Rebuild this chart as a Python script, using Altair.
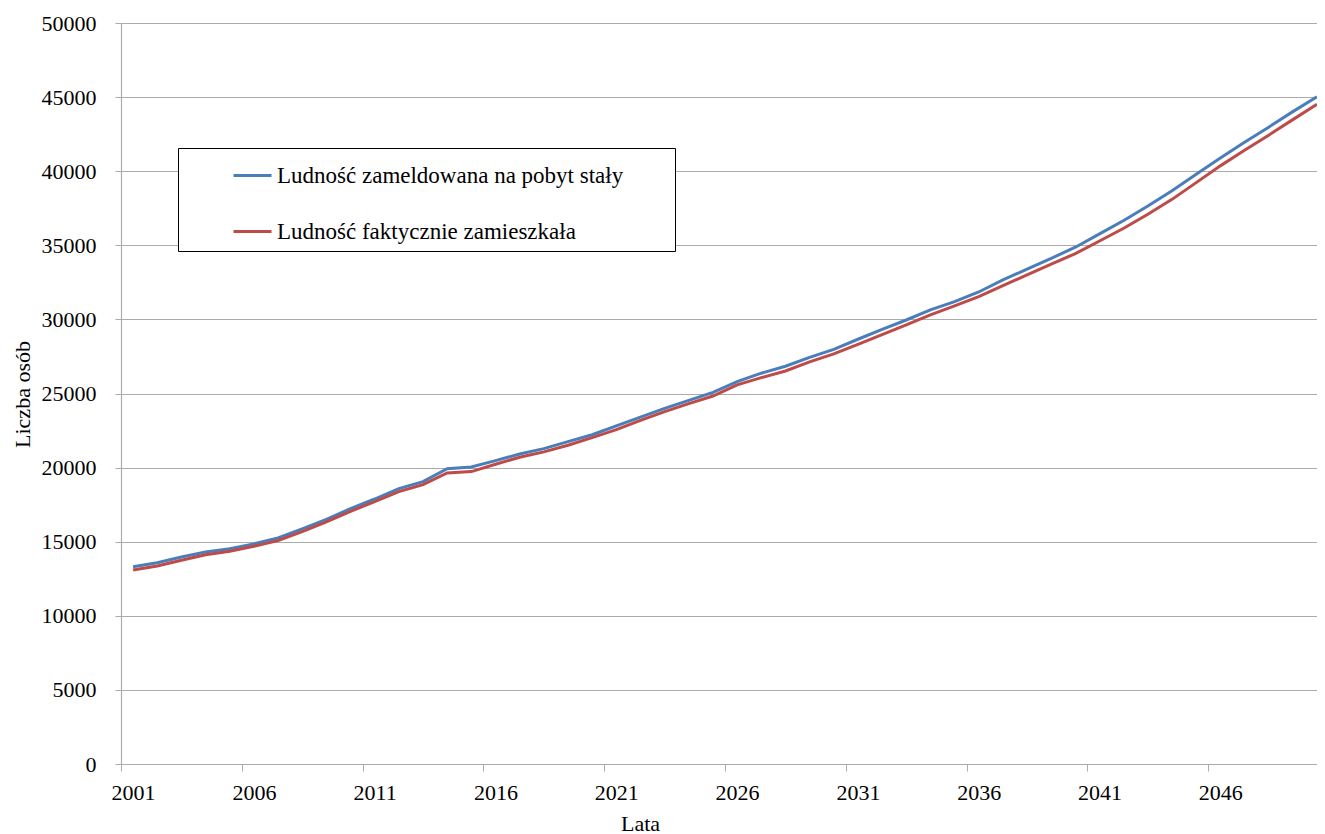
import altair as alt
import pandas as pd

years = list(range(2001, 2051))

zameldowana = [
    13310, 13580, 13970, 14310, 14530, 14850, 15250, 15860, 16510, 17230,
    17880, 18580, 19050, 19930, 20040, 20470, 20920, 21280, 21750, 22220,
    22810, 23400, 24000, 24540, 25080, 25800, 26370, 26840, 27440, 27980,
    28660, 29330, 29960, 30640, 31200, 31850, 32660, 33400, 34120, 34870,
    35770, 36670, 37650, 38680, 39790, 40890, 41950, 42970, 44020, 45030,
]

faktycznie = [
    13090, 13360, 13750, 14120, 14350, 14690, 15070, 15680, 16330, 17050,
    17700, 18380, 18850, 19640, 19730, 20230, 20700, 21060, 21510, 22020,
    22560, 23190, 23780, 24320, 24830, 25580, 26070, 26520, 27130, 27670,
    28320, 28970, 29630, 30300, 30910, 31540, 32280, 33000, 33730, 34440,
    35290, 36150, 37100, 38100, 39230, 40360, 41410, 42430, 43480, 44520,
]

series_names = ["Ludność zameldowana na pobyt stały", "Ludność faktycznie zamieszkała"]
series_colors = ["#4a7ebb", "#be4b48"]

x_tick_years = list(range(2001, 2050, 5))
y_ticks = list(range(0, 50001, 5000))

df = pd.DataFrame({
    "rok": years + years,
    "wartosc": zameldowana + faktycznie,
    "seria": [series_names[0]] * len(years) + [series_names[1]] * len(years),
})

FONT = "Liberation Serif"
W, H = 1196, 741
half_step = W / 49.5 / 2
GRID = "#ababab"

chart = alt.Chart(df).mark_line(strokeWidth=3).encode(
    x=alt.X(
        "rok:Q",
        scale=alt.Scale(domain=[2000.5, 2050], nice=False, zero=False),
        axis=alt.Axis(
            values=x_tick_years, format="d", title="Lata", grid=False,
            tickOffset=-half_step, labelOffset=half_step,
            tickSize=7, tickColor=GRID, domainColor=GRID, domainWidth=1.2,
            labelFont=FONT, labelFontSize=22, labelColor="black", labelPadding=11,
            labelFlush=False, labelOverlap=False,
            titleFont=FONT, titleFontSize=22, titleColor="black", titleFontWeight="normal",
            titleX=519, titleY=59, titleBaseline="middle", titleAlign="center",
        ),
    ),
    y=alt.Y(
        "wartosc:Q",
        scale=alt.Scale(domain=[0, 50000], nice=False),
        axis=alt.Axis(
            values=y_ticks, format="d", title="Liczba osób",
            grid=True, gridColor=GRID, gridWidth=1.2,
            tickSize=6, tickColor=GRID, domainColor=GRID, domainWidth=1.2,
            labelFont=FONT, labelFontSize=22, labelColor="black", labelPadding=19,
            labelFlush=False, labelOverlap=False,
            titleFont=FONT, titleFontSize=22, titleColor="black", titleFontWeight="normal",
            titleX=-99, titleY=371, titleAngle=-90, titleBaseline="middle", titleAlign="center",
        ),
    ),
    color=alt.Color(
        "seria:N",
        scale=alt.Scale(domain=series_names, range=series_colors),
        legend=alt.Legend(
            title=" ", titleOrient="right", titlePadding=45, titleFont=FONT, titleFontSize=22,
            orient="none", legendX=57, legendY=125, direction="vertical",
            symbolType="stroke", symbolSize=1444, symbolStrokeWidth=3, symbolOffset=47,
            labelOffset=4, labelFont=FONT, labelFontSize=23, labelColor="black", labelLimit=0,
            rowPadding=23, padding=7, strokeColor="black", fillColor="white",
        ),
    ),
).properties(
    width=W, height=H,
    autosize=alt.AutoSizeParams(type="none"),
    padding={"left": 113, "top": 15, "right": 0, "bottom": 70},
).configure(font=FONT, background="white").configure_view(stroke=None)

chart.save("out.html", embed_options={"renderer": "svg", "actions": False})
